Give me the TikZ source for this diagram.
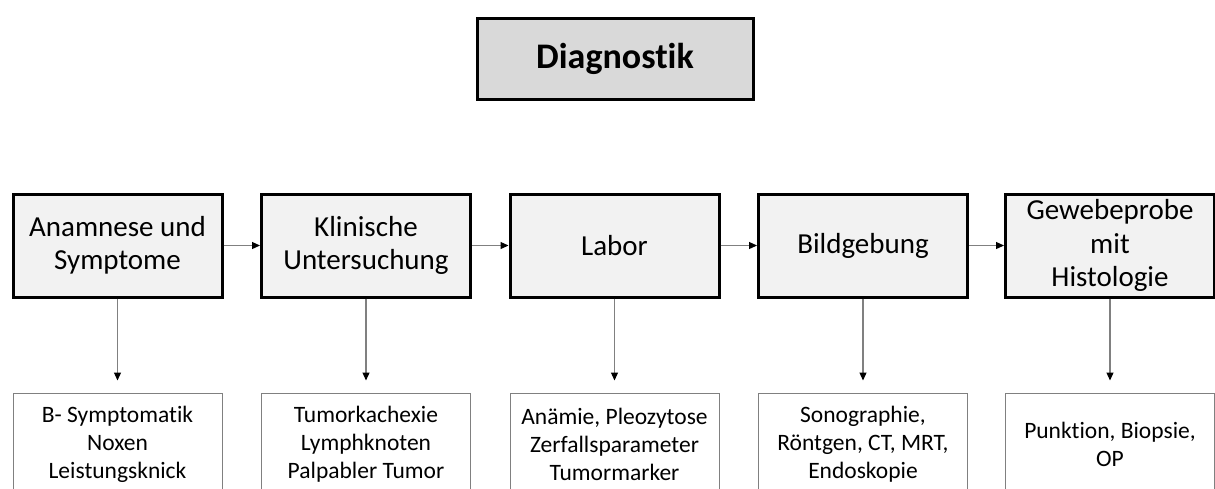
\documentclass[tikz,border=0pt]{standalone}
\usepackage{fontspec}
\setmainfont{Carlito}[Ligatures={NoCommon,NoRare}]
\usetikzlibrary{arrows.meta}

\tikzset{
  titlebox/.style={draw=black, line width=3pt, fill=black!15,
    minimum width=276pt, minimum height=81pt, inner sep=0pt,
    font=\fontsize{36pt}{43pt}\selectfont\bfseries},
  stagebox/.style={draw=black, line width=3pt, fill=black!5,
    minimum width=209pt, minimum height=103pt, inner sep=0pt, align=center,
    font=\fontsize{29pt}{33.5pt}\selectfont},
  detailbox/.style={draw=black!50, line width=1pt, fill=white,
    minimum width=209pt, minimum height=103pt, inner sep=0pt, align=center,
    font=\fontsize{23.5pt}{28pt}\selectfont},
  flow/.style={draw=black!50, line width=1.2pt,
    -{Triangle[length=8pt,width=7pt,color=black]}},
}

\begin{document}
\begin{tikzpicture}[x=1pt, y=-1pt]
  \useasboundingbox (0,0) rectangle (1215,488);
  \clip (0,0) rectangle (1215,488);

  \node[titlebox] (title) at (615,59) {Diagnostik};

  % main stages
  \node[stagebox] (s1) at (117.5,245.5) {Anamnese und\\Symptome};
  \node[stagebox] (s2) at (366,245.5)   {Klinische\\Untersuchung};
  \node[stagebox] (s3) at (614.5,245.5) {Labor};
  \node[stagebox] (s4) at (863,245.5)   {Bildgebung};
  \node[stagebox] (s5) at (1110,245.5)  {Gewebeprobe\\mit\\Histologie};

  % details of each stage
  \node[detailbox] (d1) at (117.5,444.5) {B- Symptomatik\\Noxen\\Leistungsknick};
  \node[detailbox] (d2) at (366,444.5)   {Tumorkachexie\\Lymphknoten\\Palpabler Tumor};
  \node[detailbox] (d3) at (614.5,444.5) {Anämie, Pleozytose\\Zerfallsparameter\\Tumormarker};
  \node[detailbox] (d4) at (863,444.5)   {Sonographie,\\Röntgen, CT, MRT,\\Endoskopie};
  \node[detailbox] (d5) at (1110,444.5)  {Punktion, Biopsie,\\OP};

  % sequence of stages
  \foreach \a/\b in {s1/s2, s2/s3, s3/s4, s4/s5}
    \draw[flow] (\a.east) -- (\b.west);

  % stage to details
  \foreach \i in {1,...,5}
    \draw[flow, shorten >=12pt] (s\i.south) -- (d\i.north);
\end{tikzpicture}
\end{document}
